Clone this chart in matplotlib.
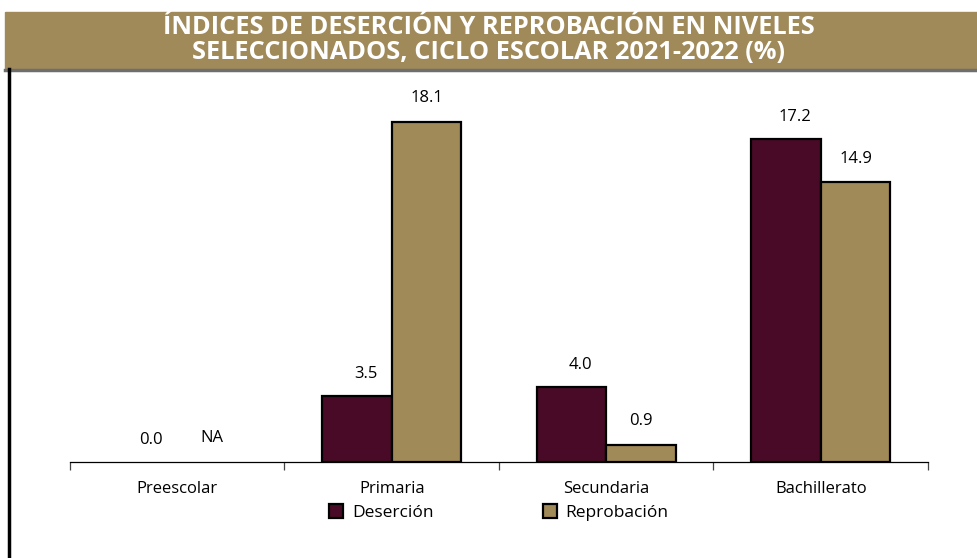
import matplotlib.pyplot as plt
import numpy as np
from matplotlib.patches import Rectangle, Patch
from matplotlib.lines import Line2D

categorias = ['Preescolar', 'Primaria', 'Secundaria', 'Bachillerato']
desercion = [0.0, 3.5, 4.0, 17.2]
reprobacion = [0.0, 18.1, 0.9, 14.9]
etiq_desercion = ['0.0', '3.5', '4.0', '17.2']
etiq_reprobacion = ['NA', '18.1', '0.9', '14.9']

c_des = '#480A26'
c_rep = '#A08A58'

plt.rcParams['font.family'] = ['Open Sans', 'DejaVu Sans']

fig = plt.figure(figsize=(9.78, 5.58), dpi=100)

# banda del titulo
fig.patches.append(Rectangle((5/978, 1-68/558), 1, 56/558, transform=fig.transFigure,
                             color='#A18A5A', zorder=0))
fig.lines.append(Line2D([5/978, 1], [1-69.5/558]*2, transform=fig.transFigure,
                        color='#6E6E6E', lw=2.5))
fig.lines.append(Line2D([8.5/978]*2, [0, 1-69/558], transform=fig.transFigure,
                        color='black', lw=2.5))
fig.text(0.5, 1-40/558, 'ÍNDICES DE DESERCIÓN Y REPROBACIÓN EN NIVELES\nSELECCIONADOS, CICLO ESCOLAR 2021-2022 (%)',
         ha='center', va='center', color='white', fontsize=18.3, fontweight='bold',
         linespacing=0.95)

ax = fig.add_axes([70/978, (558-462)/558, 858/978, 382/558])
x = np.arange(len(categorias))
w = 0.324
b1 = ax.bar(x - w/2, desercion, w, color=c_des, edgecolor='black', linewidth=1.6)
b2 = ax.bar(x + w/2, reprobacion, w, color=c_rep, edgecolor='black', linewidth=1.6)
# barras en cero no se dibujan
for bars, vals in ((b1, desercion), (b2, reprobacion)):
    for r, v in zip(bars, vals):
        if v == 0:
            r.set_visible(False)

for xi, v, t in zip(x - w/2 + 0.04, desercion, etiq_desercion):
    ax.annotate(t, (xi, v), xytext=(0, 16), textcoords='offset points', ha='center', va='center', fontsize=12)
for xi, v, t in zip(x + w/2, reprobacion, etiq_reprobacion):
    ax.annotate(t, (xi, v), xytext=(0, 17), textcoords='offset points', ha='center', va='center', fontsize=12)

ax.set_xlim(-0.5, len(categorias) - 0.5)
ax.set_ylim(0, 382/18.78)
ax.set_yticks([])
for s in ['top', 'right', 'left']:
    ax.spines[s].set_visible(False)
ax.spines['bottom'].set_linewidth(0.9)
ax.set_xticks(np.arange(-0.5, len(categorias)), minor=False)
ax.set_xticks(x, minor=True)
ax.set_xticklabels([])
ax.set_xticklabels(categorias, minor=True, fontsize=12)
ax.tick_params(axis='x', which='major', length=6, width=0.9, color='#444444')
ax.tick_params(axis='x', which='minor', length=0, pad=14)

handles = [Patch(facecolor=c_des, edgecolor='black', linewidth=1.6, label='Deserción'),
           Patch(facecolor=c_rep, edgecolor='black', linewidth=1.6, label='Reprobación')]
ax.legend(handles=handles, loc='upper center', bbox_to_anchor=(0.5, -0.088), ncol=2, frameon=False,
          fontsize=12.5, handlelength=0.8, handleheight=0.8, handletextpad=0.5,
          columnspacing=6.3, borderpad=0)

fig.savefig('out.png', dpi=100)
